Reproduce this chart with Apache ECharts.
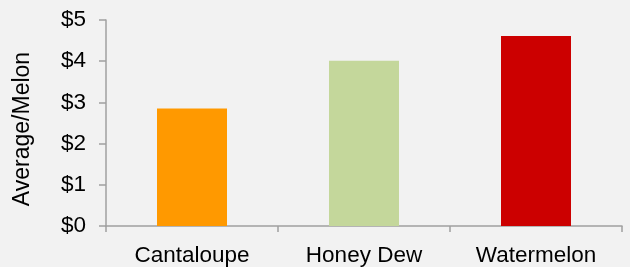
<!DOCTYPE html>
<html>
<head>
<meta charset="utf-8">
<script src="https://cdn.jsdelivr.net/npm/echarts@6/dist/echarts.min.js"></script>
<style>
  html, body { margin: 0; padding: 0; background: #f2f2f2; }
  #chart { width: 630px; height: 267px; }
</style>
</head>
<body>
<div id="chart"></div>
<script>
// Melon prices
const categories = ['Cantaloupe', 'Honey Dew', 'Watermelon'];
const prices = [2.85, 4.01, 4.61];
const barColors = ['#ff9900', '#c4d79b', '#cc0000'];

const chart = echarts.init(document.getElementById('chart'));

const axisColor = '#a0a0a0';
const font = '"Liberation Sans", Arial, sans-serif';

const option = {
  backgroundColor: '#f2f2f2',
  animation: false,
  grid: {
    left: 106,
    right: 8,
    top: 20,
    bottom: 40
  },
  xAxis: {
    type: 'category',
    data: categories,
    axisLine: {
      lineStyle: { color: axisColor, width: 1.5 }
    },
    axisTick: {
      show: true,
      length: 6,
      lineStyle: { color: axisColor, width: 1.5 }
    },
    axisLabel: {
      color: '#000',
      fontFamily: font,
      fontSize: 22.5,
      margin: 18
    }
  },
  yAxis: {
    type: 'value',
    min: 0,
    max: 5,
    interval: 1,
    name: 'Average/Melon',
    nameLocation: 'middle',
    nameGap: 72,
    nameTextStyle: {
      color: '#000',
      fontFamily: font,
      fontSize: 23,
      padding: [0, 12, 0, 0]
    },
    axisLine: {
      show: true,
      lineStyle: { color: axisColor, width: 1.5 }
    },
    axisTick: {
      show: true,
      length: 7,
      lineStyle: { color: axisColor, width: 1.5 }
    },
    axisLabel: {
      color: '#000',
      fontFamily: font,
      fontSize: 22.5,
      margin: 20,
      formatter: '${value}'
    },
    splitLine: { show: false }
  },
  series: [
    {
      type: 'bar',
      barWidth: 70,
      data: prices.map((v, i) => ({
        value: v,
        itemStyle: { color: barColors[i] }
      }))
    }
  ]
};

chart.setOption(option);
</script>
</body>
</html>
